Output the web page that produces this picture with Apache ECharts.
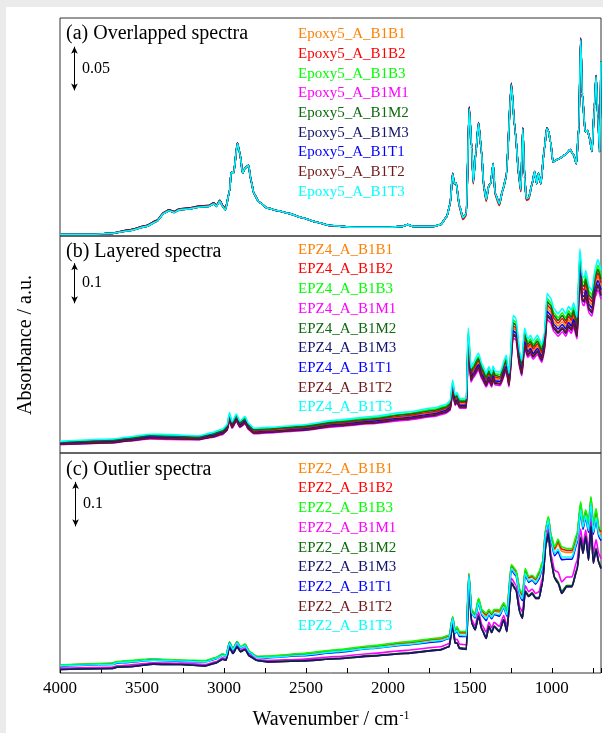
<!DOCTYPE html>
<html>
<head>
<meta charset="utf-8">
<script src="https://cdn.jsdelivr.net/npm/echarts@6.0.0/dist/echarts.min.js"></script>
<style>
  html, body { margin: 0; padding: 0; background: #ebebeb; }
  #chart { width: 603px; height: 733px; }
</style>
</head>
<body>
<div id="chart"></div>
<script>
// ---- sample identifiers, panel texts, tick labels ----
const SAMPLE_IDS = ['B1B1', 'B1B2', 'B1B3', 'B1M1', 'B1M2', 'B1M3', 'B1T1', 'B1T2', 'B1T3'];
const SAMPLE_PREFIXES = ['Epoxy5', 'EPZ4', 'EPZ2'];
const PANEL_TITLES = ['(a) Overlapped spectra', '(b) Layered spectra', '(c) Outlier spectra'];
const SCALE_BARS = [0.05, 0.1, 0.1];
const X_TICK_LABELS = [4000, 3500, 3000, 2500, 2000, 1500, 1000];

// ---- (a) Epoxy5: wavenumbers (cm-1) and absorbance ----
const wnA = [
  4000,3789,3684,3578,3472,3409,3367,3335,3304,3272,
  3219,3156,3093,3061,3046,3025,3008,2991,2966,2956,
  2941,2918,2903,2886,2871,2850,2835,2818,2787,2734,
  2671,2607,2523,2439,2354,2206,1996,1911,1880,1848,
  1721,1679,1641,1620,1605,1595,1584,1563,1542,1521,
  1504,1489,1479,1464,1447,1430,1415,1400,1384,1373,
  1358,1346,1320,1299,1278,1247,1225,1198,1189,1177,
  1166,1156,1141,1120,1105,1092,1082,1067,1046,1031,
  1021,1008,993,962,919,888,867,850,835,824,
  814,797,782,772,755,740,730,719,708,700
];
// traces that sit slightly low in the 1600-1150 valleys
const epoxy5Low = [
  .002,.002,.003,.006,.011,.017,.026,.029,.027,.030,
  .031,.033,.034,.037,.034,.040,.034,.030,.051,.073,
  .072,.106,.095,.072,.078,.081,.064,.049,.039,.032,
  .029,.026,.021,.016,.012,.010,.010,.011,.013,.011,
  .011,.013,.022,.037,.071,.060,.061,.032,.019,.024,
  .146,.102,.060,.095,.129,.099,.055,.040,.058,.060,
  .083,.047,.035,.053,.068,.173,.123,.062,.051,.123,
  .068,.041,.042,.060,.074,.060,.072,.060,.099,.123,
  .121,.108,.085,.088,.093,.099,.093,.083,.125,.225,
  .163,.120,.121,.114,.097,.148,.183,.137,.097,.200
];
const epoxy5Mid = [
  .002,.002,.003,.006,.011,.017,.026,.029,.027,.030,
  .031,.033,.034,.037,.034,.040,.034,.030,.051,.073,
  .072,.106,.095,.072,.078,.081,.064,.049,.039,.032,
  .029,.026,.021,.016,.012,.010,.010,.011,.013,.011,
  .011,.013,.022,.037,.071,.060,.061,.034,.021,.026,
  .146,.102,.062,.095,.129,.099,.057,.042,.058,.060,
  .083,.049,.037,.053,.068,.173,.123,.064,.053,.123,
  .068,.043,.044,.060,.074,.060,.072,.060,.099,.123,
  .121,.108,.085,.088,.093,.099,.093,.083,.125,.225,
  .163,.120,.121,.114,.097,.148,.183,.137,.097,.200
];
// traces slightly high over the 3500-3000 hump and at the strongest bands
const epoxy5High = [
  .002,.002,.003,.007,.012,.018,.027,.030,.028,.031,
  .032,.034,.035,.038,.035,.041,.035,.031,.051,.073,
  .072,.107,.095,.072,.078,.081,.064,.049,.039,.032,
  .029,.026,.021,.016,.012,.010,.010,.011,.013,.011,
  .011,.013,.022,.037,.072,.060,.061,.034,.021,.026,
  .148,.102,.062,.095,.130,.099,.057,.042,.058,.060,
  .083,.049,.037,.053,.068,.175,.123,.064,.053,.124,
  .068,.043,.044,.060,.074,.060,.072,.060,.099,.124,
  .121,.108,.085,.088,.093,.099,.093,.083,.125,.227,
  .163,.120,.121,.114,.097,.149,.184,.137,.097,.200
];

// ---- (b) EPZ4: layered spectra ----
const wnB = [
  4000,3684,3578,3451,3325,3156,3072,3008,2981,2966,2951,2924,
  2903,2871,2850,2818,2734,2523,2312,2101,1890,1721,1647,1620,
  1605,1590,1578,1563,1521,1510,1493,1479,1447,1426,1400,1384,
  1367,1358,1346,1316,1278,1261,1236,1219,1194,1183,1166,1147,
  1130,1114,1088,1061,1046,1029,1008,987,962,936,915,898,
  881,867,846,829,814,803,793,772,755,734,719,700
];
const epz4_B1B1 = [
  .054,.059,.064,.070,.069,.067,.074,.082,.092,.120,.099,.117,
  .101,.111,.095,.084,.086,.092,.103,.111,.121,.131,.139,.147,
  .194,.160,.166,.152,.152,.314,.223,.235,.255,.231,.210,.225,
  .210,.227,.215,.213,.251,.210,.342,.337,.255,.240,.314,.289,
  .297,.284,.297,.276,.301,.392,.383,.358,.347,.358,.347,.363,
  .354,.371,.339,.495,.433,.429,.446,.408,.400,.453,.470,.446
];
const epz4_B1B2 = [
  .056,.061,.066,.072,.071,.069,.076,.084,.094,.122,.101,.119,
  .103,.113,.097,.086,.088,.094,.105,.113,.123,.133,.141,.149,
  .198,.164,.170,.156,.156,.320,.227,.239,.261,.235,.214,.229,
  .214,.231,.219,.217,.257,.214,.348,.343,.261,.244,.320,.295,
  .303,.290,.303,.282,.307,.400,.391,.366,.354,.366,.354,.371,
  .362,.379,.345,.505,.441,.437,.455,.416,.408,.463,.480,.455
];
const epz4_B1B3 = [
  .058,.063,.068,.075,.074,.071,.079,.087,.098,.127,.105,.124,
  .107,.118,.101,.089,.091,.098,.109,.118,.128,.139,.147,.155,
  .206,.170,.176,.162,.162,.333,.236,.249,.271,.245,.223,.238,
  .223,.240,.228,.226,.267,.223,.362,.357,.271,.254,.333,.307,
  .315,.301,.315,.293,.319,.416,.406,.380,.368,.380,.368,.385,
  .376,.394,.359,.525,.459,.455,.473,.433,.424,.481,.499,.473
];
const epz4_B1M1 = [
  .051,.055,.060,.065,.064,.063,.069,.076,.086,.111,.092,.109,
  .094,.103,.088,.078,.080,.086,.096,.103,.112,.121,.129,.136,
  .180,.149,.155,.142,.142,.292,.207,.218,.237,.214,.195,.209,
  .195,.211,.200,.198,.234,.195,.317,.313,.237,.223,.292,.269,
  .276,.264,.276,.257,.280,.364,.356,.333,.322,.333,.322,.338,
  .329,.345,.315,.460,.402,.398,.414,.379,.372,.421,.437,.414
];
const epz4_B1M2 = [
  .057,.062,.067,.073,.072,.070,.077,.085,.096,.125,.103,.122,
  .105,.115,.099,.088,.090,.096,.107,.115,.126,.136,.144,.152,
  .202,.167,.173,.159,.159,.327,.232,.244,.266,.240,.218,.234,
  .218,.236,.224,.221,.262,.218,.355,.350,.266,.249,.327,.301,
  .309,.296,.309,.287,.313,.408,.399,.373,.361,.373,.361,.378,
  .369,.386,.352,.515,.450,.446,.464,.424,.416,.472,.489,.464
];
const epz4_B1M3 = [
  .052,.056,.061,.067,.066,.064,.070,.078,.087,.114,.094,.111,
  .096,.105,.090,.080,.082,.087,.098,.105,.115,.124,.132,.139,
  .184,.152,.158,.145,.145,.298,.212,.223,.243,.219,.199,.213,
  .199,.215,.204,.202,.239,.199,.324,.320,.243,.227,.298,.274,
  .282,.270,.282,.262,.286,.372,.364,.340,.329,.340,.329,.345,
  .337,.353,.321,.470,.411,.407,.423,.387,.380,.431,.447,.423
];
const epz4_B1T1 = [
  .053,.058,.063,.069,.068,.066,.073,.081,.090,.117,.097,.114,
  .099,.109,.093,.082,.084,.090,.101,.109,.118,.128,.136,.144,
  .190,.157,.163,.149,.149,.307,.218,.230,.250,.226,.206,.220,
  .206,.222,.210,.209,.246,.206,.335,.330,.250,.235,.307,.283,
  .291,.278,.291,.271,.295,.384,.375,.351,.340,.351,.340,.356,
  .347,.364,.332,.485,.424,.420,.437,.400,.392,.444,.461,.437
];
const epz4_B1T2 = [
  .052,.057,.062,.067,.067,.065,.071,.079,.088,.115,.095,.112,
  .097,.106,.091,.081,.083,.088,.099,.106,.116,.125,.133,.141,
  .186,.154,.160,.146,.146,.301,.214,.225,.245,.221,.201,.216,
  .201,.218,.206,.204,.241,.201,.328,.323,.245,.230,.301,.277,
  .285,.273,.285,.265,.289,.376,.368,.344,.333,.344,.333,.349,
  .340,.356,.325,.475,.415,.411,.428,.391,.384,.435,.451,.428
];
const epz4_B1T3 = [
  .059,.065,.070,.077,.076,.073,.081,.090,.100,.131,.108,.127,
  .110,.121,.104,.092,.094,.100,.112,.121,.132,.143,.151,.160,
  .212,.175,.181,.166,.166,.342,.243,.256,.279,.252,.229,.245,
  .229,.247,.234,.232,.274,.229,.373,.367,.279,.261,.342,.315,
  .324,.310,.324,.301,.328,.428,.418,.391,.378,.391,.378,.396,
  .387,.405,.369,.540,.472,.468,.486,.445,.436,.495,.513,.486
];

// ---- (c) EPZ2: spectra with two outlying groups ----
const wnC = [
  4000,3684,3652,3578,3430,3261,3114,3050,3008,2987,2966,2945,
  2920,2899,2871,2844,2797,2734,2523,2312,2101,1890,1679,1626,
  1605,1590,1578,1563,1521,1506,1489,1468,1447,1426,1400,1384,
  1367,1352,1320,1293,1274,1247,1219,1194,1179,1162,1141,1120,
  1099,1078,1057,1036,1021,1004,983,962,940,909,877,846,
  824,810,793,776,761,747,730,713,700
];
const epz2_B1B1 = [
  .030,.034,.038,.040,.044,.041,.040,.047,.055,.052,.082,.067,
  .083,.071,.077,.060,.049,.050,.055,.063,.072,.080,.089,.095,
  .138,.107,.113,.102,.102,.235,.152,.143,.177,.151,.141,.152,
  .143,.152,.150,.167,.150,.253,.241,.195,.186,.243,.226,.229,
  .222,.235,.258,.338,.361,.317,.290,.304,.287,.284,.284,.319,
  .390,.350,.374,.344,.403,.341,.374,.334,.326
];
const epz2_B1B2 = [
  .030,.034,.038,.040,.044,.041,.040,.047,.055,.052,.082,.067,
  .083,.071,.077,.060,.050,.050,.056,.064,.073,.082,.091,.097,
  .139,.108,.115,.104,.104,.236,.153,.145,.179,.153,.144,.154,
  .145,.154,.153,.169,.153,.255,.243,.197,.189,.245,.228,.231,
  .224,.238,.261,.340,.363,.320,.293,.309,.292,.289,.289,.323,
  .394,.353,.377,.349,.407,.346,.378,.338,.331
];
const epz2_B1B3 = [
  .031,.035,.039,.041,.045,.042,.041,.048,.056,.053,.083,.068,
  .084,.072,.078,.061,.050,.051,.057,.065,.074,.083,.092,.098,
  .140,.110,.117,.106,.106,.237,.155,.147,.181,.155,.147,.156,
  .147,.156,.155,.171,.155,.257,.245,.200,.192,.248,.230,.233,
  .226,.241,.263,.342,.365,.323,.297,.314,.297,.293,.293,.327,
  .398,.357,.380,.353,.410,.350,.383,.342,.335
];
const epz2_B1M1 = [
  .024,.026,.029,.031,.036,.035,.032,.038,.047,.045,.074,.060,
  .075,.064,.069,.054,.043,.041,.044,.050,.057,.064,.072,.079,
  .126,.088,.089,.078,.076,.221,.133,.119,.150,.121,.105,.127,
  .115,.127,.118,.142,.118,.226,.211,.160,.150,.209,.196,.202,
  .192,.196,.227,.311,.337,.278,.244,.240,.218,.229,.229,.266,
  .337,.301,.335,.289,.359,.283,.313,.281,.270
];
const epz2_B1M2 = [
  .021,.023,.027,.028,.033,.032,.029,.036,.044,.042,.071,.057,
  .072,.061,.066,.051,.041,.039,.041,.046,.052,.058,.066,.073,
  .122,.081,.081,.070,.068,.216,.126,.111,.142,.112,.093,.119,
  .106,.119,.108,.134,.108,.217,.202,.149,.138,.198,.187,.194,
  .183,.183,.217,.303,.329,.265,.229,.219,.196,.210,.210,.248,
  .319,.285,.322,.270,.345,.264,.294,.263,.251
];
const epz2_B1M3 = [
  .021,.023,.026,.027,.033,.032,.029,.035,.044,.042,.071,.057,
  .072,.061,.066,.051,.041,.038,.040,.045,.051,.057,.065,.072,
  .121,.080,.080,.068,.066,.215,.125,.110,.140,.110,.091,.117,
  .104,.117,.106,.132,.106,.215,.200,.147,.136,.196,.185,.192,
  .181,.181,.215,.301,.327,.263,.226,.215,.192,.207,.207,.245,
  .316,.282,.320,.267,.342,.260,.290,.260,.248
];
const epz2_B1T1 = [
  .028,.032,.035,.037,.042,.039,.038,.044,.053,.050,.080,.065,
  .081,.069,.075,.058,.048,.047,.052,.059,.068,.076,.084,.091,
  .135,.102,.107,.095,.095,.231,.147,.137,.170,.142,.131,.145,
  .135,.145,.141,.160,.141,.245,.232,.185,.176,.233,.217,.222,
  .213,.224,.250,.331,.354,.306,.277,.286,.268,.269,.269,.304,
  .375,.336,.363,.329,.391,.325,.357,.319,.311
];
// B1T2 coincides with B1M3 over the whole range
const epz2_B1T2 = epz2_B1M3;
const epz2_B1T3 = [
  .029,.032,.036,.038,.042,.040,.038,.045,.053,.051,.080,.066,
  .081,.070,.075,.059,.048,.048,.053,.061,.069,.077,.086,.092,
  .136,.103,.109,.098,.097,.232,.148,.139,.172,.145,.135,.147,
  .138,.147,.144,.162,.144,.248,.235,.188,.180,.237,.220,.224,
  .216,.228,.252,.333,.357,.310,.281,.292,.274,.274,.274,.309,
  .380,.341,.367,.334,.395,.330,.363,.324,.316
];

// ---- styling and layout ----
const FONT = '"Liberation Serif", "Times New Roman", serif';
const SAMPLE_COLORS = ['#FF8000', '#FF0000', '#00FF00', '#FF00FF', '#0B6B0B', '#14146E', '#0000FF', '#701818', '#00FFFF'];
const LAYOUT = {
  left: 60, width: 541,
  tops: [18, 236, 453], heights: [218, 217, 220],
  yRanges: [[0, 0.25], [0.03, 0.572], [0.013, 0.508]],
  barX: [3912, 3911, 3905], barTops: [0.217, 0.504, 0.443],
  titleY: [33.5, 251.5, 470], legendTop: [24.5, 240, 459], legendLeft: 293
};

const PANELS = [
  { wn: wnA, traces: [epoxy5Low, epoxy5Low, epoxy5Mid, epoxy5High, epoxy5Mid, epoxy5High, epoxy5Mid, epoxy5High, epoxy5Mid] },
  { wn: wnB, traces: [epz4_B1B1, epz4_B1B2, epz4_B1B3, epz4_B1M1, epz4_B1M2, epz4_B1M3, epz4_B1T1, epz4_B1T2, epz4_B1T3] },
  { wn: wnC, traces: [epz2_B1B1, epz2_B1B2, epz2_B1B3, epz2_B1M1, epz2_B1M2, epz2_B1M3, epz2_B1T1, epz2_B1T2, epz2_B1T3] }
];

const grids = [], xAxes = [], yAxes = [], legends = [], series = [], graphics = [];

graphics.push({ type: 'rect', z: -10, silent: true, shape: { x: 6, y: 7, width: 597, height: 726 }, style: { fill: '#ffffff' } });

PANELS.forEach((panel, k) => {
  grids.push({
    left: LAYOUT.left, top: LAYOUT.tops[k], width: LAYOUT.width, height: LAYOUT.heights[k],
    show: true, borderColor: '#333', borderWidth: 1, backgroundColor: 'rgba(0,0,0,0)',
    outerBoundsMode: 'none'
  });
  xAxes.push({
    type: 'value', gridIndex: k, min: 700, max: 4000, inverse: true,
    minInterval: 250, maxInterval: 250, show: k === 2,
    axisLine: { show: false }, splitLine: { show: false },
    axisTick: { show: true, inside: true, length: 5, lineStyle: { color: '#000', width: 1 } },
    axisLabel: {
      show: true, margin: 7, color: '#000', fontSize: 17, fontFamily: FONT,
      showMinLabel: true, showMaxLabel: true,
      formatter: v => (X_TICK_LABELS.indexOf(v) >= 0 ? String(v) : '')
    }
  });
  yAxes.push({ type: 'value', gridIndex: k, min: LAYOUT.yRanges[k][0], max: LAYOUT.yRanges[k][1], show: false });

  const names = SAMPLE_IDS.map(id => SAMPLE_PREFIXES[k] + '_A_' + id);
  legends.push({
    orient: 'vertical', left: LAYOUT.legendLeft, top: LAYOUT.legendTop[k], padding: 0,
    icon: 'rect', itemWidth: 0, itemHeight: 19.7, itemGap: 0, selectedMode: false,
    textStyle: { fontFamily: FONT, fontSize: 15 },
    data: names.map((n, i) => ({ name: n, textStyle: { color: SAMPLE_COLORS[i] } }))
  });

  panel.traces.forEach((vals, i) => {
    const s = {
      type: 'line', name: names[i], xAxisIndex: k, yAxisIndex: k,
      data: panel.wn.map((w, j) => [w, vals[j]]),
      symbol: 'none', smooth: 0.2, smoothMonotone: 'x',
      // in panel (c) the B1T2 trace lies under the coincident B1M3 trace
      z: (k === 2 && SAMPLE_IDS[i] === 'B1T2') ? 1 : 2,
      lineStyle: { width: 1.6, color: SAMPLE_COLORS[i] },
      itemStyle: { color: SAMPLE_COLORS[i] },
      emphasis: { disabled: true }, animation: false
    };
    if (i === 0) {
      const bar = SCALE_BARS[k], bx = LAYOUT.barX[k], top = LAYOUT.barTops[k];
      s.markLine = {
        silent: true, animation: false, symbol: ['arrow', 'arrow'], symbolSize: [5, 7],
        label: { show: false }, emphasis: { disabled: true },
        lineStyle: { color: '#000', width: 1, type: 'solid' },
        data: [[{ coord: [bx, top - bar] }, { coord: [bx, top] }]]
      };
      s.markPoint = {
        silent: true, animation: false, symbol: 'rect', symbolSize: 1,
        itemStyle: { color: 'rgba(0,0,0,0)' },
        label: { show: true, position: 'right', distance: 7, color: '#000', fontSize: 16, fontFamily: FONT, formatter: String(bar) },
        data: [{ coord: [bx, top - bar / 2] }]
      };
    }
    series.push(s);
  });

  graphics.push({
    type: 'text', x: 66, y: LAYOUT.titleY[k], silent: true,
    style: { text: PANEL_TITLES[k], font: '20px ' + FONT, fill: '#000', verticalAlign: 'middle' }
  });
});

graphics.push({
  type: 'text', x: 26, y: 345, rotation: Math.PI / 2, silent: true,
  style: { text: 'Absorbance / a.u.', font: '20px ' + FONT, fill: '#000', align: 'center', verticalAlign: 'middle' }
});
graphics.push({
  type: 'text', x: 331, y: 720, silent: true,
  style: {
    text: '{a|Wavenumber / cm}{b|-1}', align: 'center', verticalAlign: 'middle', fill: '#000',
    rich: {
      a: { fontFamily: FONT, fontSize: 20, fill: '#000' },
      b: { fontFamily: FONT, fontSize: 12, fill: '#000', verticalAlign: 'top', padding: [0, 0, 0, 1] }
    }
  }
});

const chart = echarts.init(document.getElementById('chart'));
chart.setOption({
  backgroundColor: '#ebebeb',
  animation: false,
  grid: grids, xAxis: xAxes, yAxis: yAxes,
  legend: legends, series: series, graphic: graphics
});
</script>
</body>
</html>
